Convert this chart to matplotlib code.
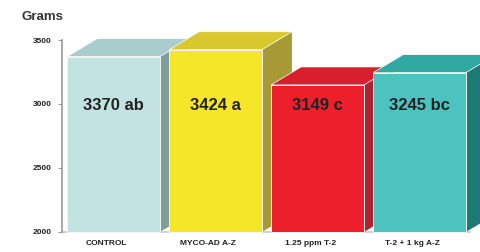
import matplotlib
matplotlib.use("Agg")
import matplotlib.pyplot as plt
from matplotlib.patches import Polygon

categories = ["CONTROL", "MYCO-AD A-Z", "1.25 ppm T-2", "T-2 + 1 kg A-Z"]
values = [3370, 3424, 3149, 3245]
letters = ["ab", "a", "c", "bc"]
yticks = [2000, 2500, 3000, 3500]

front_colors = ["#c3e3e2", "#f6e628", "#ec1f2b", "#4cc3bf"]
side_colors = ["#7c9e9d", "#a79a34", "#b02131", "#1d7a72"]
top_colors = ["#a8cdcc", "#d8c82e", "#d91f2c", "#2fa9a2"]

plt.rcParams['font.family'] = ['Liberation Sans', 'DejaVu Sans']

fig = plt.figure(figsize=(4.81, 2.52), dpi=100)
ax = fig.add_axes([62.5 / 481, 20 / 252, 408 / 481, 192 / 252])
ymin, ymax = 2000, 3500
ax.set_xlim(-0.5, 3.5)
ax.set_ylim(ymin, ymax)

w = 0.91
dx = 30 / 102.0
dy = 18 * (ymax - ymin) / 192.0

for i, v in enumerate(values):
    x0 = i - w / 2
    x1 = i + w / 2
    z = 3 + i * 3
    side = Polygon([(x1, ymin), (x1 + dx, ymin + dy), (x1 + dx, v + dy), (x1, v)],
                   closed=True, facecolor=side_colors[i], edgecolor="none",
                   clip_on=False, zorder=z)
    top = Polygon([(x0, v), (x0 + dx, v + dy), (x1 + dx, v + dy), (x1, v)],
                  closed=True, facecolor=top_colors[i], edgecolor="#ffffff",
                  linewidth=0.5, clip_on=False, zorder=z + 1)
    front = Polygon([(x0, ymin), (x1, ymin), (x1, v), (x0, v)],
                    closed=True, facecolor=front_colors[i], edgecolor="#f4f4f4",
                    linewidth=0.7, clip_on=False, zorder=z + 2)
    ax.add_patch(side)
    ax.add_patch(top)
    ax.add_patch(front)
    ax.text(i, 2985, f"{v} {letters[i]}", ha="center", va="center",
            fontsize=12, fontweight="bold", color="#222222", zorder=30)

for s in ["top", "right"]:
    ax.spines[s].set_visible(False)
ax.spines["left"].set_color("#9a9a9a")
ax.spines["left"].set_linewidth(1.2)
ax.spines["bottom"].set_color("#c8c8c8")
ax.spines["bottom"].set_linewidth(1.2)
ax.spines["bottom"].set_zorder(1)

ax.set_yticks(yticks)
ax.set_yticklabels([str(t) for t in yticks], fontsize=6, fontweight="bold", color="#222222")
ax.tick_params(axis="y", length=3, width=0.8, color="#9a9a9a", pad=5)
ax.set_xticks([i - 0.07 for i in range(len(categories))])
ax.set_xticklabels(categories, fontsize=6, fontweight="bold", color="#222222")
ax.tick_params(axis="x", length=0, pad=6)

fig.text(22 / 481, 1 - 17 / 252, "Grams", ha="left", va="center",
         fontsize=9.5, fontweight="bold", color="#333333")

fig.savefig("out.png", dpi=100, facecolor="white")
